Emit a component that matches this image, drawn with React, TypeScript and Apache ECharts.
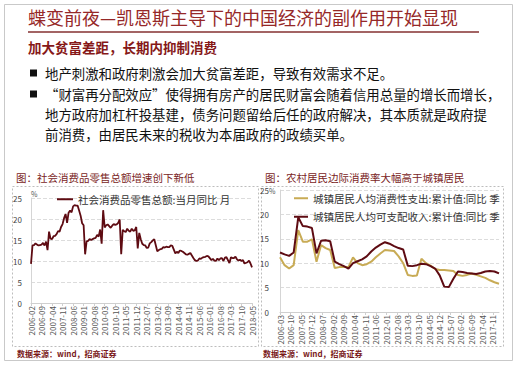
import React, { useEffect, useRef } from "react";
import * as echarts from "echarts";

const FONT = '"Noto Sans CJK SC", "Noto Sans", sans-serif';

const TITLE = "蝶变前夜—凯恩斯主导下的中国经济的副作用开始显现";
const SUBTITLE = "加大贫富差距，长期内抑制消费";
const BULLET_LINES = [
  "地产刺激和政府刺激会加大贫富差距，导致有效需求不足。",
  "“财富再分配效应”使得拥有房产的居民财富会随着信用总量的增长而增长，",
  "地方政府加杠杆投基建，债务问题留给后任的政府解决，其本质就是政府提",
  "前消费，由居民未来的税收为本届政府的政绩买单。",
];
const LEFT_TITLE = "图：社会消费品零售总额增速创下新低";
const RIGHT_TITLE = "图：农村居民边际消费率大幅高于城镇居民";
const SOURCE = "数据来源：wind，招商证券";

const RETAIL_NAME = "社会消费品零售总额:当月同比 月";
const CONS_NAME = "城镇居民人均消费性支出:累计值:同比 季";
const INC_NAME = "城镇居民人均可支配收入:累计值:同比 季";

// Monthly, 2006-02 .. 2018-05 (148 months)
const retailValues: (number | null)[] = [
  // 2006 Feb-Dec
  9.3, 13.7, 13.8, 14.2, 13.9, 13.7, 13.8, 13.9, 14.3, 13.7, 14.6,
  // 2007
  12.6, 17.0, 15.3, 15.2, 15.9, 16.0, 16.4, 17.1, 17.0, 18.1, 18.8, 20.2,
  // 2008
  21.2, 19.1, 21.5, 22.0, 21.6, 23.0, 23.3, 23.2, 23.2, 22.0, 20.8, 19.0,
  // 2009
  18.5, 11.6, 14.7, 14.8, 15.2, 15.0, 15.2, 15.4, 15.5, 16.2, 15.8, 17.5,
  // 2010
  14.1, 22.1, 18.0, 18.5, 18.7, 18.3, 17.9, 18.4, 18.8, 18.6, 18.7, 19.1,
  // 2011
  19.9, 11.6, 17.4, 17.1, 16.9, 17.7, 17.2, 17.0, 17.7, 17.2, 17.3, 18.1,
  // 2012
  13.0, 16.7, 15.2, 14.1, 13.8, 13.7, 13.1, 13.2, 14.2, 14.5, 14.9, 15.2,
  // 2013
  null, 12.3, 12.6, 12.8, 12.9, 13.3, 13.2, 13.4, 13.3, 13.3, 13.7, 13.6,
  // 2014
  null, 11.8, 12.2, 11.9, 12.5, 12.4, 12.2, 11.9, 11.6, 11.5, 11.7, 11.9,
  // 2015
  null, 10.7, 10.2, 10.0, 10.1, 10.6, 10.5, 10.8, 10.9, 11.0, 11.2, 11.1,
  // 2016
  null, 10.2, 10.5, 10.1, 10.0, 10.6, 10.2, 10.6, 10.7, 10.0, 10.8, 10.9,
  // 2017
  null, 9.5, 10.9, 10.7, 10.7, 11.0, 10.4, 10.1, 10.3, 10.0, 10.2, 9.4,
  // 2018 Jan-May
  null, 9.7, 10.1, 9.4, 8.5,
];

// Quarterly, 2006-03 .. 2018-03 (49 quarters)
const consQuarterly = [
  11.2, 9.6, 8.9, 9.6,
  16.8, 14.4, 14.4, 14.9,
  10.3, 13.7, 13.1, 12.7,
  9.0, 9.2, 9.2, 9.2,
  11.2, 10.0, 9.6, 9.8,
  10.3, 11.2, 12.0, 12.7,
  12.6, 12.5, 11.4, 10.0,
  7.6, 7.4, 7.5, 10.9,
  10.0, 9.5, 8.8, 8.6,
  8.6, 8.5, 8.4, 7.6,
  7.4, 7.6, 7.9, 7.6,
  7.3, 7.0, 6.5, 6.1,
  5.8,
];
const incQuarterly = [
  12.2, 11.8, 11.5, 12.2,
  19.4, 17.6, 17.5, 17.2,
  12.0, 14.6, 14.7, 14.5,
  10.3, 9.8, 9.4, 8.9,
  10.0, 10.4, 10.8, 11.4,
  12.4, 13.2, 13.8, 14.3,
  14.0, 13.5, 13.1, 12.8,
  9.5, 9.4, 9.6, 9.9,
  9.8, 9.4, 8.9, 7.5,
  5.2, 5.1, 6.8, 8.3,
  8.2, 8.0, 7.9, 7.8,
  8.0, 8.3, 8.4, 8.3,
  7.9,
];

const Y_TICKS = { min: 0, max: 25, interval: 5 };

function monthRange(year: number, month: number, count: number): string[] {
  const out: string[] = [];
  let y = year;
  let m = month;
  for (let i = 0; i < count; i++) {
    out.push(`${y}-${m < 10 ? "0" + m : m}`);
    m++;
    if (m > 12) {
      m = 1;
      y++;
    }
  }
  return out;
}

const leftMonths = monthRange(2006, 2, retailValues.length);
const rightMonths = monthRange(2006, 3, (consQuarterly.length - 1) * 3 + 1);
const quarterToMonthly = (q: number[]) =>
  rightMonths.map((_, i) => (i % 3 === 0 ? q[i / 3] : null));

const DARK_RED = "#5e0b12";
const GOLD = "#c8ab55";
const TITLE_RED = "#962828";
const CHART_TITLE = "#7a2424";

export default function App() {
  const ref = useRef<HTMLDivElement>(null);

  useEffect(() => {
    document.body.style.margin = "0";
    if (!ref.current) return;
    const chart = echarts.init(ref.current, undefined, { renderer: "svg" });

    const text = (
      x: number,
      y: number,
      t: string,
      size: number,
      fill: string,
      weight: string = "normal"
    ) => ({
      type: "text",
      x,
      y,
      silent: true,
      style: {
        text: t,
        fontSize: size,
        fontFamily: FONT,
        fontWeight: weight,
        fill,
        verticalAlign: "middle",
      },
    });

    const bulletYs = [73, 94, 114, 134];
    const graphics: any[] = [
      {
        type: "rect",
        silent: true,
        shape: { x: 4.5, y: 4.5, width: 508, height: 356 },
        style: { fill: "none", stroke: "#c9c9c9", lineWidth: 1 },
      },
      text(28, 17, TITLE, 18, TITLE_RED),
      {
        type: "line",
        silent: true,
        shape: { x1: 28, y1: 32, x2: 479, y2: 32 },
        style: { stroke: "#a36464", lineWidth: 2 },
      },
      text(28, 47, SUBTITLE, 13.5, "#861818", "bold"),
      ...BULLET_LINES.map((l, i) => text(45, bulletYs[i], l, 13.4, "#111")),
      {
        type: "rect",
        silent: true,
        shape: { x: 30, y: bulletYs[0] - 3.5, width: 7, height: 7 },
        style: { fill: "#111" },
      },
      {
        type: "rect",
        silent: true,
        shape: { x: 30, y: bulletYs[1] - 3.5, width: 7, height: 7 },
        style: { fill: "#111" },
      },
      // chart panels
      {
        type: "rect",
        silent: true,
        shape: { x: 12.5, y: 186.5, width: 246, height: 160 },
        style: { fill: "none", stroke: "#bdbdbd", lineWidth: 1, lineDash: [2, 2] },
      },
      {
        type: "rect",
        silent: true,
        shape: { x: 261.5, y: 186.5, width: 242, height: 160 },
        style: { fill: "none", stroke: "#bdbdbd", lineWidth: 1, lineDash: [2, 2] },
      },
      text(16, 177, LEFT_TITLE, 10.5, CHART_TITLE),
      text(265, 177, RIGHT_TITLE, 10.5, CHART_TITLE),
      text(31, 194, "%", 7, "#555"),
      text(269, 191, "%", 7, "#555"),
      text(17, 353, SOURCE, 8, "#7a1a1a", "bold"),
      text(263, 353, SOURCE, 8, "#7a1a1a", "bold"),
    ];

    const xAxisBase = (gridIndex: number, data: string[]) => ({
      type: "category",
      gridIndex,
      data,
      boundaryGap: false,
      axisLine: { lineStyle: { color: "#cfcfcf" } },
      axisTick: { show: true, interval: 6, length: 3, lineStyle: { color: "#cfcfcf" } },
      axisLabel: {
        rotate: 90,
        interval: 6,
        fontSize: 8,
        color: "#555",
        margin: 3,
        fontFamily: FONT,
      },
      splitLine: { show: false },
    });

    const yAxisBase = (gridIndex: number, margin: number) => ({
      type: "value",
      gridIndex,
      ...Y_TICKS,
      axisLine: { show: true, lineStyle: { color: "#d5d5d5" } },
      axisTick: { show: false },
      axisLabel: { fontSize: 8, color: "#444", margin, fontFamily: FONT },
      splitLine: { lineStyle: { type: "dashed", color: "#dcdcdc" } },
    });

    chart.setOption({
      animation: false,
      backgroundColor: "#ffffff",
      textStyle: { fontFamily: FONT },
      graphic: graphics,
      legend: [
        {
          data: [RETAIL_NAME],
          left: 52,
          top: 189,
          icon: "rect",
          itemWidth: 16,
          itemHeight: 2,
          itemGap: 4,
          selectedMode: false,
          textStyle: { fontSize: 10.5, color: "#333", fontFamily: FONT },
        },
        {
          data: [CONS_NAME, INC_NAME],
          orient: "vertical",
          left: 289,
          top: 188,
          icon: "rect",
          itemWidth: 14,
          itemHeight: 2,
          itemGap: 8,
          selectedMode: false,
          textStyle: { fontSize: 10.5, color: "#333", fontFamily: FONT },
        },
      ],
      grid: [
        { left: 31, top: 198, width: 221, height: 105 },
        { left: 280, top: 190, width: 219, height: 122 },
      ],
      xAxis: [xAxisBase(0, leftMonths), xAxisBase(1, rightMonths)],
      yAxis: [yAxisBase(0, 9), yAxisBase(1, 11)],
      series: [
        {
          name: RETAIL_NAME,
          type: "line",
          xAxisIndex: 0,
          yAxisIndex: 0,
          data: retailValues,
          connectNulls: true,
          symbol: "none",
          lineStyle: { color: DARK_RED, width: 1.8 },
          itemStyle: { color: DARK_RED },
        },
        {
          name: CONS_NAME,
          type: "line",
          xAxisIndex: 1,
          yAxisIndex: 1,
          data: quarterToMonthly(consQuarterly),
          connectNulls: true,
          symbol: "none",
          lineStyle: { color: GOLD, width: 2 },
          itemStyle: { color: GOLD },
        },
        {
          name: INC_NAME,
          type: "line",
          xAxisIndex: 1,
          yAxisIndex: 1,
          data: quarterToMonthly(incQuarterly),
          connectNulls: true,
          symbol: "none",
          lineStyle: { color: DARK_RED, width: 2 },
          itemStyle: { color: DARK_RED },
        },
      ],
    });

    return () => chart.dispose();
  }, []);

  return (
    <div
      ref={ref}
      style={{ position: "absolute", left: 0, top: 0, width: 518, height: 369, background: "#fff" }}
    />
  );
}
